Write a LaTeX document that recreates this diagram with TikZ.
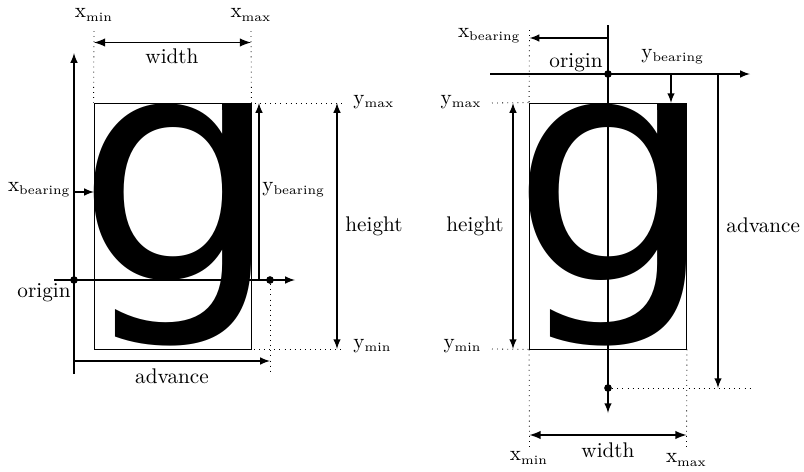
\documentclass[tikz,border=0pt]{standalone}
\usepackage{fontspec}
\newfontfamily\glyphfont[FakeStretch=1.02]{DejaVu Sans}
\DeclareMathSizes{10}{10}{6}{5}
\tikzset{
  glyphbox/.style={draw,thin,inner sep=0,minimum width=74.06pt,minimum height=116.04pt},
  glyphtext/.style={inner sep=0,anchor=base west,font=\glyphfont\fontsize{148.8}{148.8}\selectfont},
  axis/.style={semithick,-latex},
  dim/.style={semithick,-latex},
  bothdim/.style={thick,latex-latex},
  guide/.style={thin,dotted},
  dot/.style={circle,fill,inner sep=0,minimum size=3.6pt},
  lab/.style={inner sep=0}
}
\begin{document}
\begin{tikzpicture}[x=0.4717pt,y=-0.4717pt]
  \useasboundingbox (0,0) rectangle (804,472);
  % left glyph
  \node[glyphtext] (gL) at (76,280) {g};
  \fill (221.5,103) rectangle (251,110);
  \node[glyphbox] (boxL) at (172.5,226) {};
  \coordinate (axLtop) at (74,53);
  \coordinate (axLbot) at (74,374);
  \coordinate (axLlft) at (54,280);
  \coordinate (axLrgt) at (295,280);
  \node[dot] (orgL) at (74,280) {};
  \node[dot] (advL) at (270,280) {};
  \draw[axis] (axLbot) -- (axLtop);
  \draw[axis] (axLlft) -- (axLrgt);
  \coordinate (xminLt) at (94,31);
  \coordinate (xmaxLt) at (251,31);
  \draw[guide] (xminLt) -- (boxL.north west);
  \draw[guide] (xmaxLt) -- (boxL.north east);
  \coordinate (wLa) at (94,42.5);
  \coordinate (wLb) at (251,42.5);
  \draw[bothdim] (wLa) -- (wLb);
  \node[lab] (widthL) at (172,56.5) {width};
  \node[lab] (xminL) at (94,15) {$\mathrm{x_{min}}$};
  \node[lab] (xmaxL) at (251,15) {$\mathrm{x_{max}}$};
  \coordinate (xbLa) at (74,192);
  \coordinate (xbLb) at (94,192);
  \draw[dim] (xbLa) -- (xbLb);
  \node[lab,anchor=east] (xbearL) at (71,190) {$\mathrm{x_{bearing}}$};
  \coordinate (ybLa) at (259,280);
  \coordinate (ybLb) at (259,103);
  \draw[dim] (ybLa) -- (ybLb);
  \node[lab,anchor=west] (ybearL) at (262,190) {$\mathrm{y_{bearing}}$};
  \coordinate (hLa) at (337,103);
  \coordinate (hLb) at (337,349);
  \draw[dim,latex-latex] (hLa) -- (hLb);
  \coordinate (gyLa) at (255,103);
  \coordinate (gyLb) at (345,103);
  \coordinate (gyLc) at (254,349);
  \coordinate (gyLd) at (345,349);
  \draw[guide] (gyLa) -- (gyLb);
  \draw[guide] (gyLc) -- (gyLd);
  \node[lab] (heightL) at (374,226) {height};
  \node[lab,anchor=west] (ymaxL) at (353,102) {$\mathrm{y_{max}}$};
  \node[lab,anchor=west] (yminL) at (353,346) {$\mathrm{y_{min}}$};
  \coordinate (advLa) at (74,361);
  \coordinate (advLb) at (270,361);
  \coordinate (advLc) at (270,373);
  \draw[dim] (advLa) -- (advLb);
  \draw[guide] (advL) -- (advLc);
  \node[lab] (advanceL) at (172,376) {advance};
  \node[lab,anchor=east] (originL) at (71,293) {origin};
  % right glyph
  \node[glyphtext] (gR) at (511.5,280) {g};
  \fill (657,103) rectangle (686.5,110);
  \node[glyphbox] (boxR) at (608,226) {};
  \coordinate (axRtop) at (608,25);
  \coordinate (axRbot) at (608,413);
  \coordinate (axRlft) at (490,74);
  \coordinate (axRrgt) at (750,74);
  \node[dot] (orgR) at (608,74) {};
  \node[dot] (advR) at (608,388) {};
  \draw[axis] (axRtop) -- (axRbot);
  \draw[axis] (axRlft) -- (axRrgt);
  \coordinate (xbRa) at (608,38);
  \coordinate (xbRb) at (529.5,38);
  \coordinate (xbRc) at (529.5,30);
  \draw[dim] (xbRa) -- (xbRb);
  \draw[guide] (xbRc) -- (boxR.north west);
  \node[lab,anchor=east] (xbearR) at (521,36) {$\mathrm{x_{bearing}}$};
  \node[lab,anchor=east] (originR) at (603,63) {origin};
  \coordinate (ybRa) at (671,74);
  \coordinate (ybRb) at (671,103);
  \draw[dim] (ybRa) -- (ybRb);
  \node[lab,anchor=west] (ybearR) at (641,57) {$\mathrm{y_{bearing}}$};
  \coordinate (advRa) at (718,74);
  \coordinate (advRb) at (718,388);
  \coordinate (advRc) at (752,388);
  \draw[dim] (advRa) -- (advRb);
  \draw[guide] (advR) -- (advRc);
  \node[lab,anchor=west] (advanceR) at (726,225) {advance};
  \coordinate (hRa) at (513,103);
  \coordinate (hRb) at (513,349);
  \draw[dim,latex-latex] (hRa) -- (hRb);
  \coordinate (gyRa) at (492,103);
  \coordinate (gyRb) at (492,349);
  \draw[guide] (gyRa) -- (boxR.north west);
  \draw[guide] (gyRb) -- (boxR.south west);
  \node[lab,anchor=east] (heightR) at (504,226) {height};
  \node[lab,anchor=east] (ymaxR) at (482,102) {$\mathrm{y_{max}}$};
  \node[lab,anchor=east] (yminR) at (482,346) {$\mathrm{y_{min}}$};
  \coordinate (gxRa) at (529.5,447);
  \coordinate (gxRb) at (686.5,447);
  \draw[guide] (boxR.south west) -- (gxRa);
  \draw[guide] (boxR.south east) -- (gxRb);
  \coordinate (wRa) at (529.5,435);
  \coordinate (wRb) at (686.5,435);
  \draw[bothdim] (wRa) -- (wRb);
  \node[lab] (widthR) at (608,450) {width};
  \node[lab] (xminR) at (529,458) {$\mathrm{x_{min}}$};
  \node[lab] (xmaxR) at (686.5,460) {$\mathrm{x_{max}}$};
\end{tikzpicture}
\end{document}
